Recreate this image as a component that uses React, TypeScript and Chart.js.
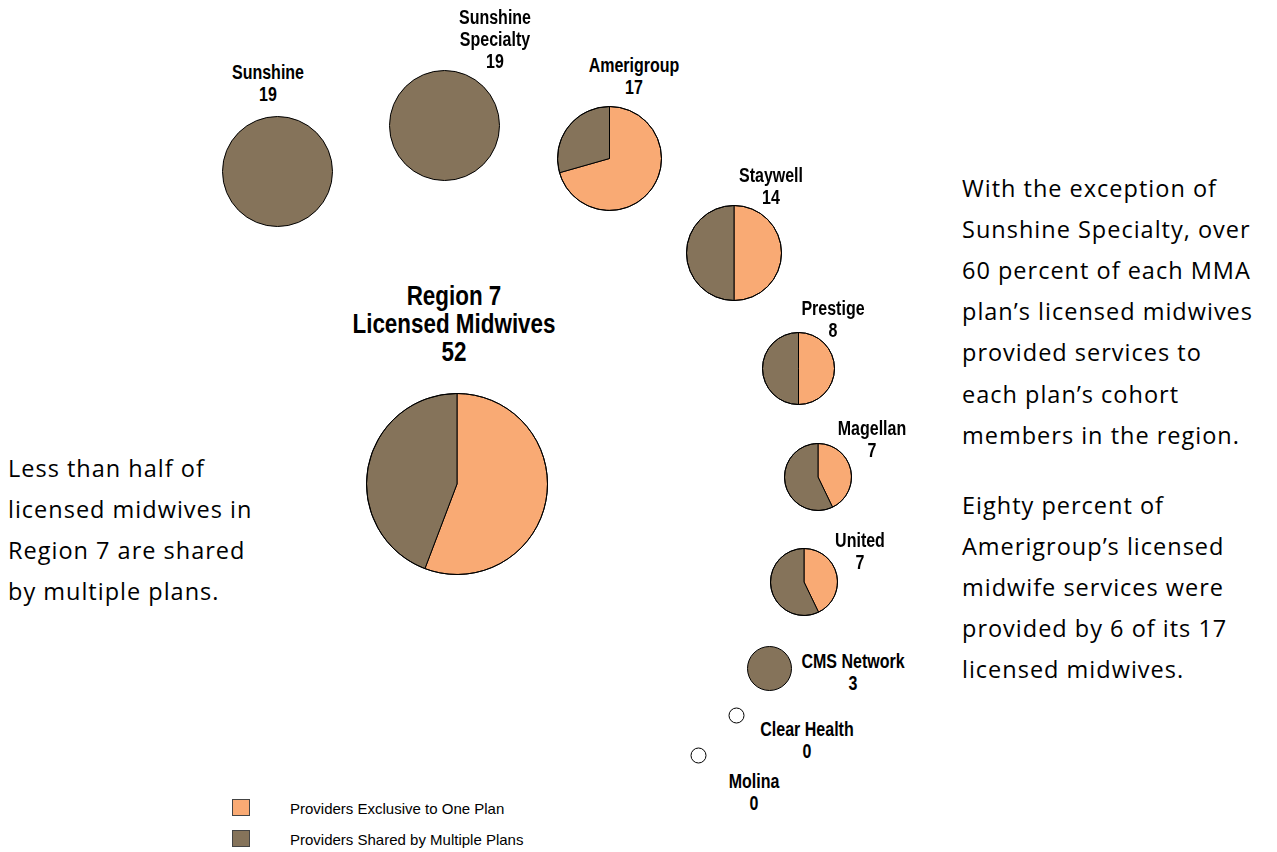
import React, { useEffect, useRef } from "react";
import { Chart, registerables } from "chart.js";

Chart.register(...registerables);

// ---- Data ----
const planNames = ["Sunshine", "Sunshine Specialty", "Amerigroup", "Staywell", "Prestige", "Magellan", "United", "CMS Network", "Clear Health", "Molina"];
const exclusiveCounts = [0, 0, 12, 7, 4, 3, 3, 0, 0, 0];
const sharedCounts = [19, 19, 5, 7, 4, 4, 4, 3, 0, 0];
const regionTitle = ["Region 7", "Licensed Midwives"];
const regionExclusive = 29;
const regionShared = 23;
const seriesLabels = ["Providers Exclusive to One Plan", "Providers Shared by Multiple Plans"];
const leftNote = ["Less than half of", "licensed midwives in", "Region 7 are shared", "by multiple plans."];
const rightNote1 = ["With the exception of", "Sunshine Specialty, over", "60 percent of each MMA", "plan\u2019s licensed midwives", "provided services to", "each plan\u2019s cohort", "members in the region."];
const rightNote2 = ["Eighty percent of", "Amerigroup\u2019s licensed", "midwife services were", "provided by 6 of its 17", "licensed midwives."];

// ---- Layout (positions only) ----
const pieCenters: [number, number][] = [
  [277, 171], [444, 125], [609, 158], [734, 253], [798, 368],
  [818, 477], [804, 582], [769, 668], [736, 715], [698, 755],
];
const labelPos: [number, number][] = [
  [268, 72], [495, 17], [634, 65], [771, 175], [833, 308],
  [872, 428], [860, 540], [853, 661], [807, 729], [754, 781],
];
const regionCenter: [number, number] = [457, 484];

const COLORS = ["#F9AA74", "#85735A"];
const NARROW = '"Liberation Sans Narrow", "Arial Narrow", Arial, "Liberation Sans", sans-serif';
const SCALE = 12.5; // px per sqrt(count)

function radiusFor(total: number) {
  return total > 0 ? SCALE * Math.sqrt(total) : 7.5;
}

const outlinePlugin = {
  id: "outline",
  afterDatasetsDraw(chart: any) {
    const { ctx, chartArea } = chart;
    const ds = chart.data.datasets[0].data as number[];
    const total = ds.reduce((a, b) => a + b, 0);
    const cx = (chartArea.left + chartArea.right) / 2;
    const cy = (chartArea.top + chartArea.bottom) / 2;
    const el: any = chart.getDatasetMeta(0).data[0];
    const r = total > 0 && el ? el.outerRadius : Math.min(chartArea.width, chartArea.height) / 2 - 1;
    ctx.save();
    ctx.beginPath();
    ctx.arc(cx, cy, r, 0, Math.PI * 2);
    if (total === 0) {
      ctx.fillStyle = "#fff";
      ctx.fill();
    }
    ctx.lineWidth = 1;
    ctx.strokeStyle = "#000";
    ctx.stroke();
    ctx.restore();
  },
};

function Pie({ cx, cy, exclusive, shared }: { cx: number; cy: number; exclusive: number; shared: number }) {
  const ref = useRef<HTMLCanvasElement>(null);
  const total = exclusive + shared;
  const r = radiusFor(total);
  const size = Math.round(2 * r + 2);
  useEffect(() => {
    const chart = new Chart(ref.current!, {
      type: "pie",
      data: {
        labels: seriesLabels,
        datasets: [
          {
            data: [exclusive, shared],
            backgroundColor: COLORS,
            borderColor: "#000",
            borderWidth: (c: any) => (c.raw === total ? 0 : 1),
          },
        ],
      },
      options: {
        responsive: false,
        animation: false,
        events: [],
        layout: { padding: 0 },
        plugins: { legend: { display: false }, tooltip: { enabled: false } },
      },
      plugins: [outlinePlugin],
    } as any);
    return () => chart.destroy();
  }, [exclusive, shared]);
  return (
    <canvas
      ref={ref}
      width={size}
      height={size}
      style={{ position: "absolute", left: cx - size / 2, top: cy - size / 2, width: size, height: size }}
    />
  );
}

function Label({ x, y, lines, size, lh, sx }: { x: number; y: number; lines: string[]; size: number; lh: number; sx: number }) {
  return (
    <div
      style={{
        position: "absolute",
        left: x,
        top: y - lh / 2,
        transform: `translateX(-50%) scaleX(${sx})`,
        textAlign: "center",
        whiteSpace: "nowrap",
        fontFamily: NARROW,
        fontWeight: "bold",
        fontSize: size,
        lineHeight: lh + "px",
        color: "#000",
      }}
    >
      {lines.map((l, i) => (
        <div key={i}>{l}</div>
      ))}
    </div>
  );
}

function Note({ x, y, lines }: { x: number; y: number; lines: string[] }) {
  return (
    <div
      style={{
        position: "absolute",
        left: x,
        top: y - 20.5,
        whiteSpace: "nowrap",
        fontFamily: "'Open Sans', Lato, sans-serif",
        fontSize: 23.5,
        letterSpacing: "1px",
        lineHeight: "41.2px",
        color: "#000",
      }}
    >
      {lines.map((l, i) => (
        <div key={i}>{l}</div>
      ))}
    </div>
  );
}

export default function App() {
  const labelLines = planNames.map((n, i) => {
    const nameLines = n === "Sunshine Specialty" ? ["Sunshine", "Specialty"] : [n];
    return [...nameLines, String(exclusiveCounts[i] + sharedCounts[i])];
  });
  return (
    <div style={{ position: "fixed", left: 0, top: 0, width: 1277, height: 852, background: "#fff", overflow: "hidden" }}>
      {planNames.map((n, i) => (
        <Pie key={n} cx={pieCenters[i][0]} cy={pieCenters[i][1]} exclusive={exclusiveCounts[i]} shared={sharedCounts[i]} />
      ))}
      <Pie cx={regionCenter[0]} cy={regionCenter[1]} exclusive={regionExclusive} shared={regionShared} />
      {planNames.map((n, i) => (
        <Label key={n} x={labelPos[i][0]} y={labelPos[i][1]} lines={labelLines[i]} size={20} lh={22} sx={0.8} />
      ))}
      <Label x={454} y={296} lines={[...regionTitle, String(regionExclusive + regionShared)]} size={27} lh={28} sx={0.83} />
      <Note x={8} y={468} lines={leftNote} />
      <Note x={962} y={188} lines={rightNote1} />
      <Note x={962} y={505} lines={rightNote2} />
      {seriesLabels.map((s, i) => (
        <React.Fragment key={s}>
          <div
            style={{
              position: "absolute",
              left: 232,
              top: 799 + i * 31,
              width: 18,
              height: 17,
              boxSizing: "border-box",
              background: COLORS[i],
              border: "1px solid #444",
            }}
          />
          <div
            style={{
              position: "absolute",
              left: 290,
              top: 799 + i * 31,
              lineHeight: "20px",
              fontFamily: "Arial, 'Liberation Sans', sans-serif",
              fontSize: 15,
              color: "#000",
              whiteSpace: "nowrap",
            }}
          >
            {s}
          </div>
        </React.Fragment>
      ))}
    </div>
  );
}
